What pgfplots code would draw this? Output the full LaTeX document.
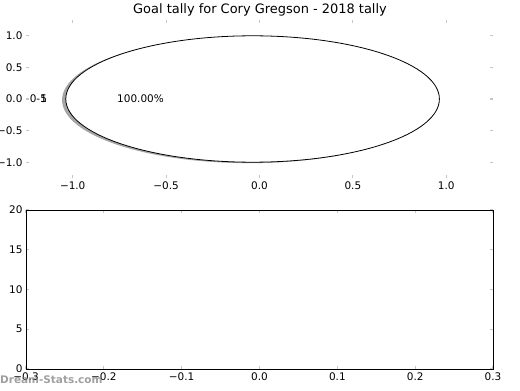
\documentclass[border=0pt]{standalone}
\usepackage{fontspec}
\setmainfont{DejaVu Sans}
\usepackage{pgfplots}
\pgfplotsset{compat=1.18}
\begin{document}
\begin{tikzpicture}[x=1bp,y=1bp]
\useasboundingbox (0,0) rectangle (520,390);
\pgfplotsset{
  common/.style={
    scale only axis, anchor=south west,
    tick style={gray!45, line width=1.1pt},
    major tick length=3bp,
    tick label style={font=\fontsize{10.5}{12}\selectfont},
  }
}
% pie axes (frameless)
\begin{axis}[common,
  at={(26bp,212bp)}, width=467bp, height=158bp,
  xmin=-1.25, xmax=1.25, ymin=-1.25, ymax=1.25,
  axis line style={draw=none},
  xtick={-1,-0.5,0,0.5,1}, xticklabels={−1.0,−0.5,0.0,0.5,1.0},
  ytick={-1,-0.5,0,0.5,1}, yticklabels={−1.0,−0.5,0.0,0.5,1.0},
  clip=false]
  % single wedge: 0-5 = 1 goal (100%)
  \fill[gray!70] (axis cs:-0.057,-0.015) ellipse [x radius=1, y radius=1];
  \draw[black, line width=0.8pt, fill=white] (axis cs:-0.037,0) ellipse [x radius=1, y radius=1];
  \node[anchor=center, font=\fontsize{10.5}{12}\selectfont] at (axis cs:-0.637,0) {100.00\%};
  \node[anchor=east, inner sep=0pt, font=\fontsize{10.5}{12}\selectfont] at (axis cs:-1.137,0) {0-5};
  \node[anchor=east, inner sep=0pt, font=\fontsize{10.5}{12}\selectfont] at (axis cs:-1.137,0) {1};
\end{axis}
% empty bar axes
\begin{axis}[common,
  at={(26bp,21bp)}, width=467bp, height=159bp,
  xmin=-0.3, xmax=0.3, ymin=0, ymax=20,
  axis line style={black, line width=0.8pt},
  xtick={-0.3,-0.2,-0.1,0,0.1,0.2,0.3}, xticklabels={−0.3,−0.2,−0.1,0.0,0.1,0.2,0.3},
  ytick={0,5,10,15,20}, yticklabels={0,5,10,15,20}]
\end{axis}
\node[font=\fontsize{13}{15}\selectfont] at (260,380) {Goal tally for Cory Gregson - 2018 tally};
\node[anchor=west, inner sep=0pt, text=gray, opacity=0.75, font=\bfseries\fontsize{10.5}{12}\selectfont] at (0,10) {Dream-Stats.com};
\end{tikzpicture}
\end{document}
